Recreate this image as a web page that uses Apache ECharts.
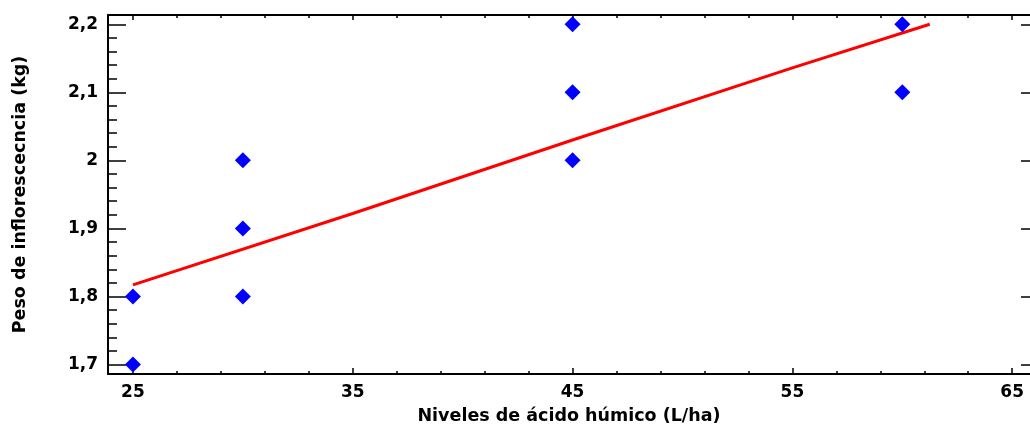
<!DOCTYPE html>
<html>
<head>
<meta charset="utf-8">
<script src="https://cdn.jsdelivr.net/npm/echarts@6/dist/echarts.min.js"></script>
<style>
  html, body { margin: 0; padding: 0; background: #fff; }
  #chart { width: 1030px; height: 430px; }
</style>
</head>
<body>
<div id="chart"></div>
<script>
// observaciones: nivel de ácido húmico (L/ha) y peso de inflorescencia (kg)
const obsX = [25, 25, 30, 30, 30, 45, 45, 45, 60, 60]
const obsY = [1.8, 1.7, 2.0, 1.9, 1.8, 2.2, 2.1, 2.0, 2.2, 2.1]

// recta ajustada
const fitX = [25, 35, 45, 55, 61.25]
const fitY = [1.817, 1.922, 2.030, 2.136, 2.2]

// marcas de los ejes
const xMajor = [25, 35, 45, 55, 65]
const xMinor = [27, 29, 31, 33, 37, 39, 41, 43, 47, 49, 51, 53, 57, 59, 61, 63]
const yMajor = [1.7, 1.8, 1.9, 2.0, 2.1, 2.2]
const yMinor = [1.72, 1.74, 1.76, 1.78, 1.82, 1.84, 1.86, 1.88, 1.92, 1.94, 1.96, 1.98,
                2.02, 2.04, 2.06, 2.08, 2.12, 2.14, 2.16, 2.18]
const yLabels = ['1,7', '1,8', '1,9', '2', '2,1', '2,2']

const X_MIN = 23.865, X_MAX = 65.81
const Y_MIN = 1.6861, Y_MAX = 2.2136

const font = 'DejaVu Sans'
const black = '#000'

function yFmt (v) {
    const i = yMajor.findIndex(t => Math.abs(t - v) < 1e-6)
    return i >= 0 ? yLabels[i] : ''
}

// eje auxiliar sin etiquetas, solo marcas
function tickAxis (base, ticks, len, extra) {
    return Object.assign({
        type: 'value',
        min: base.min,
        max: base.max,
        position: base.position,
        axisLine: { show: false, onZero: false },
        axisTick: { show: true, inside: true, length: len, customValues: ticks, lineStyle: { color: black, width: 1.5 } },
        axisLabel: { show: false },
        splitLine: { show: false }
    }, extra || {})
}

const chart = echarts.init(document.getElementById('chart'))

chart.setOption({
    animation: false,
    grid: { left: 108, right: -2, top: 15, bottom: 55, containLabel: false },
    xAxis: [
        {
            type: 'value',
            min: X_MIN,
            max: X_MAX,
            position: 'bottom',
            name: 'Niveles de ácido húmico (L/ha)',
            nameLocation: 'middle',
            nameGap: 33,
            nameTextStyle: { fontFamily: font, fontWeight: 'bold', fontSize: 17.5, color: black },
            axisLine: { show: true, onZero: false, lineStyle: { color: black, width: 2 } },
            axisTick: { show: true, inside: true, length: 6, customValues: xMajor, lineStyle: { color: black, width: 1.5 } },
            axisLabel: {
                customValues: xMajor,
                margin: 10,
                fontFamily: font, fontWeight: 'bold', fontSize: 17, color: black
            },
            splitLine: { show: false }
        },
        tickAxis({ min: X_MIN, max: X_MAX, position: 'bottom' }, xMinor, 3),
        tickAxis({ min: X_MIN, max: X_MAX, position: 'top' }, xMajor, 5,
            { axisLine: { show: true, onZero: false, lineStyle: { color: black, width: 2 } } }),
        tickAxis({ min: X_MIN, max: X_MAX, position: 'top' }, xMinor, 3)
    ],
    yAxis: [
        {
            type: 'value',
            min: Y_MIN,
            max: Y_MAX,
            position: 'left',
            name: 'Peso de inflorescecncia (kg)',
            nameLocation: 'middle',
            nameGap: 79,
            nameTextStyle: { fontFamily: font, fontWeight: 'bold', fontSize: 17.5, color: black },
            axisLine: { show: true, onZero: false, lineStyle: { color: black, width: 2 } },
            axisTick: { show: true, inside: true, length: 18, customValues: yMajor, lineStyle: { color: black, width: 1.5 } },
            axisLabel: {
                customValues: yMajor,
                formatter: yFmt,
                margin: 10,
                fontFamily: font, fontWeight: 'bold', fontSize: 17, color: black
            },
            splitLine: { show: false }
        },
        tickAxis({ min: Y_MIN, max: Y_MAX, position: 'left' }, yMinor, 9),
        tickAxis({ min: Y_MIN, max: Y_MAX, position: 'right' }, yMajor, 9)
    ],
    series: [
        {
            type: 'line',
            xAxisIndex: 0,
            yAxisIndex: 0,
            data: fitX.map((x, i) => [x, fitY[i]]),
            showSymbol: false,
            lineStyle: { color: '#ff0000', width: 3 },
            z: 2
        },
        {
            type: 'scatter',
            xAxisIndex: 0,
            yAxisIndex: 0,
            data: obsX.map((x, i) => [x, obsY[i]]),
            symbol: 'diamond',
            symbolSize: 16,
            itemStyle: { color: '#0000ff', opacity: 1 },
            z: 3
        }
    ]
})
</script>
</body>
</html>
